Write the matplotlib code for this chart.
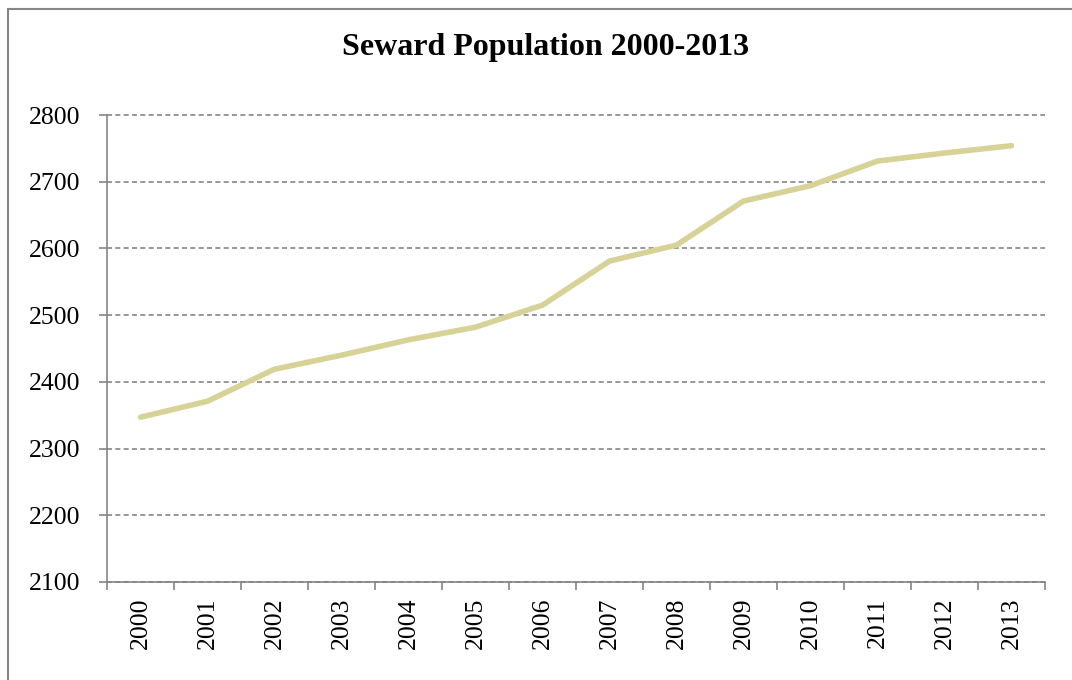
import matplotlib
matplotlib.use("Agg")
import matplotlib.pyplot as plt
from matplotlib.patches import Rectangle

years = ["2000", "2001", "2002", "2003", "2004", "2005", "2006",
         "2007", "2008", "2009", "2010", "2011", "2012", "2013"]
population = [2347, 2371, 2419, 2440, 2463, 2482, 2515,
              2581, 2605, 2671, 2694, 2731, 2743, 2754]
y_ticks = [2100, 2200, 2300, 2400, 2500, 2600, 2700, 2800]

W, H = 1072, 680
fig = plt.figure(figsize=(W / 100, H / 100), dpi=100)
plt.rcParams['font.family'] = ['Liberation Serif', 'DejaVu Serif']

# outer border (left and top visible, rest cut off)
fig.patches.append(Rectangle((8 / W, -0.2), 1.3, 1 - 9 / H + 0.2,
                             transform=fig.transFigure, fill=False,
                             edgecolor='#868686', linewidth=1.5))

left, right, top, bottom = 107, 1045, 115, 582
ax = fig.add_axes([left / W, 1 - bottom / H, (right - left) / W, (bottom - top) / H])

x = list(range(len(years)))
ax.plot(x, population, color='#D7D296', linewidth=4.0,
        solid_capstyle='round', solid_joinstyle='round', zorder=3)

ax.set_xlim(-0.5, len(years) - 0.5)
ax.set_ylim(2100, 2800)
ax.set_yticks(y_ticks)
ax.set_yticklabels([str(v) for v in y_ticks], fontsize=18.5)

ax.set_xticks(x)
ax.set_xticklabels(years, rotation=90, fontsize=18.5)
ax.tick_params(axis='x', which='major', length=0, pad=11)
ax.set_xticks([i - 0.5 for i in range(len(years) + 1)], minor=True)
ax.tick_params(axis='x', which='minor', length=6, color='#868686', width=1.2)
ax.tick_params(axis='y', length=6, color='#868686', width=1.2, pad=13)

ax.grid(axis='y', color='#868686', linestyle=(0, (3, 2)), linewidth=1.2)
for gl in ax.get_ygridlines():
    gl.set_clip_on(False)
for s in ['top', 'right']:
    ax.spines[s].set_visible(False)
for s in ['left', 'bottom']:
    ax.spines[s].set_color('#868686')
    ax.spines[s].set_linewidth(1.2)
ax.set_axisbelow(True)

fig.text(0.5 * (343 + 748) / W, 1 - 48 / H, "Seward Population 2000-2013",
         ha='center', va='center', fontsize=23, fontweight='bold')

fig.savefig("out.png", dpi=100)
